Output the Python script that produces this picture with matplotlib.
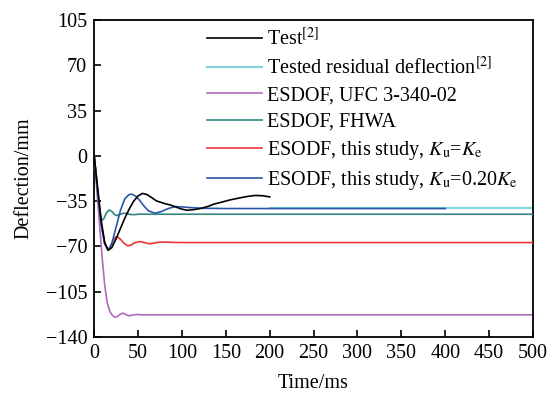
import matplotlib
matplotlib.use("Agg")
import matplotlib.pyplot as plt

plt.rcParams["font.family"] = ["Liberation Serif", "DejaVu Serif"]
plt.rcParams["mathtext.fontset"] = "stix"

# values (time in ms, deflection in mm)
t_test = [0, 4, 8, 12, 16, 20, 25, 30, 35, 40, 45, 50, 55, 60, 65, 71, 80, 87, 95, 100,
          106, 113, 121, 130, 136, 145, 155, 165, 174, 183, 192, 200]
y_test = [0, -25, -50, -67, -73, -71, -64, -56, -48, -41, -35, -31, -29, -29.8, -32, -34.8,
          -36.8, -38, -40, -41.2, -42, -41.6, -40.7, -39, -37.4, -35.8, -34, -32.6, -31.4,
          -30.6, -30.8, -31.7]

t_resid = [200, 500]
y_resid = [-40.5, -40.5]

t_ufc = [0, 3, 6, 9, 12, 15, 18, 21, 24, 27, 30, 33, 36, 39, 43, 48, 55, 70, 500]
y_ufc = [0, -26, -52, -78, -100, -114, -120.5, -123.5, -124.8, -124, -122.3, -121.6,
         -122.6, -123.6, -123.2, -122.6, -122.9, -122.9, -122.9]

t_fhwa = [0, 3, 6, 8.5, 11, 14, 17, 20, 23, 26, 29, 33, 37, 41, 46, 52, 60, 500]
y_fhwa = [0, -20, -42, -50, -48.5, -44, -41.8, -42.8, -45.3, -46.1, -45.5, -44.3, -44.5,
          -45.3, -45.4, -45, -45.1, -45.1]

t_ku1 = [0, 4, 8, 12, 15, 18, 21, 24, 26.5, 30, 34, 38, 42, 46, 51.6, 57, 63, 68, 74,
         80, 90, 100, 500]
y_ku1 = [0, -28, -53, -68, -72, -71, -66, -63, -62.6, -64.5, -67.5, -69.5, -69, -67.2,
         -66.2, -67, -68, -67.4, -66.7, -66.6, -66.9, -67, -67]

t_ku2 = [0, 4, 8, 12, 16, 20, 25, 30, 35, 40, 43, 47, 52, 57, 62, 69, 76, 84, 92, 100,
         110, 125, 150, 400]
y_ku2 = [0, -28, -53, -68, -73, -68, -55, -42, -33, -29.8, -29.6, -31, -34.5, -39, -42.5,
         -44.3, -43.2, -40.8, -39.2, -39.4, -40, -40.5, -40.7, -40.7]

fig = plt.figure(figsize=(5.54, 3.95), dpi=100)
ax = fig.add_axes([0.170, 0.147, 0.792, 0.802])

ax.plot(t_resid, y_resid, color="#86d3de", lw=1.6, label="Tested residual deflection$^{[2]}$", zorder=1)
ax.plot(t_ufc, y_ufc, color="#b368c0", lw=1.2, label="ESDOF, UFC 3-340-02", zorder=2)
ax.plot(t_fhwa, y_fhwa, color="#32857f", lw=1.2, label="ESDOF, FHWA", zorder=3)
ax.plot(t_ku1, y_ku1, color="#ee3535", lw=1.2, label=r"ESODF, this study, $K_{\rm u}$=$K_{\rm e}$", zorder=4)
ax.plot(t_ku2, y_ku2, color="#2857a6", lw=1.2, label=r"ESODF, this study, $K_{\rm u}$=0.20$K_{\rm e}$", zorder=5)
ax.plot(t_test, y_test, color="black", lw=1.2, label="Test$^{[2]}$", zorder=6)

ax.set_xlim(0, 500)
ax.set_ylim(-140, 105)
ax.set_xticks(range(0, 501, 50))
ax.set_yticks(range(-140, 106, 35))
ax.set_yticklabels([str(v).replace("-", "\u2212") for v in range(-140, 106, 35)])
ax.tick_params(direction="in", length=5, width=1.2, labelsize=14.5, pad=5,
               top=False, right=False)
for s in ax.spines.values():
    s.set_linewidth(1.3)

ax.set_xlabel("Time/ms", fontsize=14.5, labelpad=8)
ax.set_ylabel("Deflection/mm", fontsize=14.5, labelpad=9)

h, l = ax.get_legend_handles_labels()
order = [5, 0, 1, 2, 3, 4]
ax.legend([h[i] for i in order], [l[i] for i in order], loc="upper left",
          bbox_to_anchor=(0.257, 0.976), frameon=False, fontsize=14.5,
          handlelength=2.74, handletextpad=0.23, labelspacing=0.36,
          borderpad=0, borderaxespad=0)

fig.savefig("out.png", dpi=100)
